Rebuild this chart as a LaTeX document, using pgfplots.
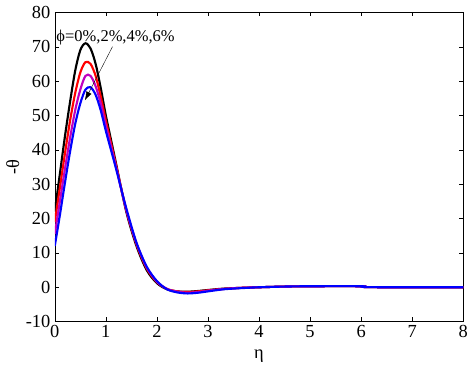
\documentclass[border=0pt]{standalone}
\usepackage{fontspec}
\setmainfont{Liberation Serif}
\usepackage{pgfplots}
\usetikzlibrary{arrows.meta}
\pgfplotsset{compat=1.18}
\begin{document}
\fontsize{19}{21}\selectfont
\begin{tikzpicture}
\begin{axis}[
  scale only axis, width=420bp, height=318bp,
  xmin=0, xmax=8, ymin=-10, ymax=80,
  xtick={0,1,...,8}, ytick={-10,0,...,80},
  tick align=inside, tick style={black, thin},
  axis line style={black, thin},
  /pgf/number format/assume math mode=true,
  ticklabel style={font=\fontsize{19}{21}\selectfont},
  xticklabel style={yshift=3pt},
  yticklabel style={xshift=2pt},
  xlabel={η}, ylabel={-θ},
  label style={font=\fontsize{19}{21}\selectfont},
  xlabel style={yshift=0pt},
  ylabel style={yshift=-6pt},
  every axis plot/.append style={line width=2.2pt, smooth, tension=0.5},
  clip=true,
]
\addplot[black] coordinates {(0,22)(0.1,33)(0.2,44)(0.3,54)(0.4,63)(0.5,69)(0.6,71)(0.7,69.5)(0.8,65)(0.9,58)(1.0,50)(1.1,43)(1.2,36)(1.4,22)(1.6,12)(1.8,5)(2.0,1.2)(2.2,-0.6)(2.4,-1.2)(2.6,-1.3)(2.8,-1.1)(3.0,-0.8)(3.3,-0.4)(3.6,-0.2)(4,0)(4.5,0.2)(5,0.3)(6,0.3)(6.1,0.05)(7,0)(8,0)};
\addplot[red] coordinates {(0,19)(0.1,29)(0.2,39)(0.3,48.5)(0.4,56.5)(0.5,62.5)(0.6,65.5)(0.7,65)(0.8,61.5)(0.9,55.5)(1.0,48.5)(1.1,42)(1.2,35.5)(1.4,22.5)(1.6,12.5)(1.8,5.5)(2.0,1.5)(2.2,-0.5)(2.4,-1.2)(2.6,-1.4)(2.8,-1.2)(3.0,-0.9)(3.3,-0.5)(3.6,-0.2)(4,0)(4.5,0.2)(5,0.3)(6,0.3)(6.1,0.05)(7,0)(8,0)};
\addplot[color={rgb,1:red,0.75;green,0;blue,0.75}] coordinates {(0,15.5)(0.1,25)(0.2,34.5)(0.3,43.5)(0.4,51.5)(0.5,57.5)(0.6,61.5)(0.7,61.5)(0.8,58.5)(0.9,53.5)(1.0,47)(1.1,41)(1.2,35)(1.4,22.5)(1.6,12.8)(1.8,5.8)(2.0,1.6)(2.2,-0.5)(2.4,-1.3)(2.6,-1.6)(2.8,-1.4)(3.0,-1.0)(3.3,-0.5)(3.6,-0.2)(4,0)(4.5,0.2)(5,0.3)(6,0.3)(6.1,0.05)(7,0)(8,0)};
\addplot[blue] coordinates {(0,12)(0.1,21)(0.2,30.5)(0.3,39.5)(0.4,47.5)(0.5,53.5)(0.6,57.5)(0.7,58.2)(0.8,56)(0.9,51.5)(1.0,45.5)(1.1,40)(1.2,34.5)(1.4,23)(1.6,13)(1.8,6)(2.0,1.8)(2.2,-0.6)(2.4,-1.5)(2.6,-1.8)(2.8,-1.6)(3.0,-1.2)(3.3,-0.6)(3.6,-0.3)(4,0)(4.5,0.2)(5,0.3)(6,0.3)(6.1,0.05)(7,0)(8,0)};
\draw[-{Latex[length=9pt,width=6pt]}, thin] (axis cs:1.13,70) -- (axis cs:0.59,54.4);
\node[anchor=west, inner sep=0pt, font=\fontsize{17}{19}\selectfont] at (axis cs:0.03,72.7) {ϕ=0\%,2\%,4\%,6\%};
\end{axis}
\end{tikzpicture}
\end{document}
